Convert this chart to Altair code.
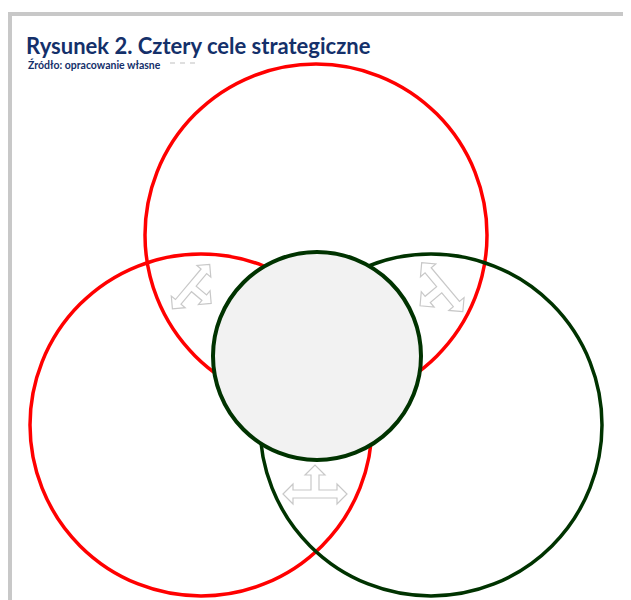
import altair as alt
import pandas as pd

# ---- data ----
title_text = ["Rysunek 2. Cztery cele strategiczne"]
sub_text = ["Źródło: opracowanie własne"]

circle_name = ["top", "left", "right"]
circle_cx = [316, 201, 431]
circle_cy = [235, 425, 425]
circle_r = [171, 171, 171]
circle_color = ["#ff0000", "#ff0000", "#003300"]

center_cx = [317]
center_cy = [356]
center_r = [104]

arrow_x = [198, 434.6, 315]
arrow_y = [292.4, 293.6, 484]
arrow_angle = [130, 230, 0]
arrow_len = [58, 64, 64]

W, H = 615, 592
xs = alt.Scale(domain=[8, 8 + W], nice=False, zero=False)
ys = alt.Scale(domain=[8, 8 + H], nice=False, zero=False, reverse=True)

one = pd.DataFrame({"a": [0]})

border_top = alt.Chart(one).mark_rule(color="#c8c8c8", strokeWidth=4).encode(
    x=alt.value(0), x2=alt.value(W), y=alt.value(6))
border_left = alt.Chart(one).mark_rule(color="#c8c8c8", strokeWidth=4).encode(
    x=alt.value(2), y=alt.value(4), y2=alt.value(H))

sub = alt.Chart(pd.DataFrame({"t": sub_text})).mark_text(
    align="left", baseline="alphabetic", font="Lato", fontWeight="bold",
    fontSize=10.5, color="#14306a").encode(
    x=alt.value(20), y=alt.value(60.5), text="t:N")
dashes = alt.Chart(one).mark_rule(color="#c0c0c0", strokeWidth=1.2, strokeDash=[5, 5]).encode(
    x=alt.value(162), x2=alt.value(192), y=alt.value(55))

title = alt.Chart(pd.DataFrame({"t": title_text})).mark_text(
    align="left", baseline="alphabetic", font="Lato", fontWeight="bold",
    fontSize=22, color="#14306a").encode(
    x=alt.value(18), y=alt.value(45.5), text="t:N")

circles = alt.Chart(pd.DataFrame({
    "name": circle_name, "cx": circle_cx, "cy": circle_cy,
    "r": circle_r, "c": circle_color})).transform_calculate(
    size="4*datum.r*datum.r").mark_point(
    shape="circle", filled=False, strokeWidth=3.5, opacity=1).encode(
    x=alt.X("cx:Q", scale=xs, axis=None),
    y=alt.Y("cy:Q", scale=ys, axis=None),
    size=alt.Size("size:Q", scale=None, legend=None),
    stroke=alt.Stroke("c:N", scale=None, legend=None))

arrow_path = ("M -1 0.3125 L -0.6875 0 L -0.6875 0.1875 L -0.125 0.1875 "
              "L -0.125 -0.28125 L -0.3125 -0.28125 L 0 -0.59375 L 0.3125 -0.28125 "
              "L 0.125 -0.28125 L 0.125 0.1875 L 0.6875 0.1875 L 0.6875 0 L 1 0.3125 "
              "L 0.6875 0.625 L 0.6875 0.4375 L -0.6875 0.4375 L -0.6875 0.625 Z")

arrows = alt.Chart(pd.DataFrame({
    "x": arrow_x, "y": arrow_y, "angle": arrow_angle, "len": arrow_len})).transform_calculate(
    size="datum.len*datum.len").mark_point(
    shape=arrow_path, filled=True, fill="white", stroke="#c8c8c8",
    strokeWidth=1.2, opacity=1).encode(
    x=alt.X("x:Q", scale=xs, axis=None),
    y=alt.Y("y:Q", scale=ys, axis=None),
    size=alt.Size("size:Q", scale=None, legend=None),
    angle=alt.Angle("angle:Q", scale=None))

center = alt.Chart(pd.DataFrame({
    "cx": center_cx, "cy": center_cy, "r": center_r})).transform_calculate(
    size="4*datum.r*datum.r").mark_point(
    shape="circle", filled=True, fill="#f2f2f2", stroke="#003300",
    strokeWidth=4, opacity=1).encode(
    x=alt.X("cx:Q", scale=xs, axis=None),
    y=alt.Y("cy:Q", scale=ys, axis=None),
    size=alt.Size("size:Q", scale=None, legend=None))

chart = alt.layer(
    border_top, border_left, sub, dashes, title,
    circles, arrows, center
).properties(
    width=W, height=H, padding=0, autosize=alt.AutoSizeParams(type="none"),
    background="white"
).configure_view(stroke=None)

chart.save("out.html", embed_options={"renderer": "svg", "actions": False})
